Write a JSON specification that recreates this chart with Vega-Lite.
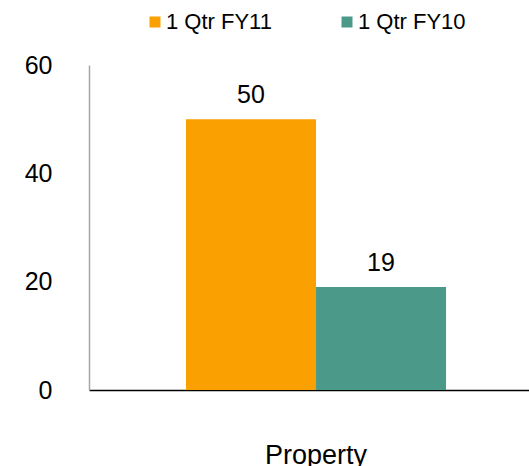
{
  "$schema": "https://vega.github.io/schema/vega-lite/v6.json",
  "autosize": {"type": "none"},
  "width": 440,
  "height": 325,
  "padding": {"left": 89, "top": 65, "right": 0, "bottom": 76},
  "background": "white",
  "config": {
    "view": {"stroke": null},
    "font": "Liberation Sans",
    "text": {"font": "Liberation Sans"}
  },
  "data": {
    "values": [
      {"category": "Property", "period": "1 Qtr FY11", "value": 50},
      {"category": "Property", "period": "1 Qtr FY10", "value": 19}
    ]
  },
  "encoding": {
    "x": {
      "field": "category",
      "type": "nominal",
      "scale": {"paddingInner": 0, "paddingOuter": 0.346, "align": 0.539},
      "axis": {
        "title": null,
        "labelAngle": 0,
        "labelFontSize": 27,
        "labelColor": "#000000",
        "labelPadding": 52,
        "ticks": false,
        "domainColor": "#000000",
        "domainWidth": 1.5
      }
    },
    "xOffset": {"field": "period", "type": "nominal", "sort": ["1 Qtr FY11", "1 Qtr FY10"]},
    "y": {
      "field": "value",
      "type": "quantitative",
      "scale": {"domain": [0, 60]},
      "axis": {
        "title": null,
        "values": [0, 20, 40, 60],
        "grid": false,
        "ticks": false,
        "labelFontSize": 25,
        "labelColor": "#000000",
        "labelPadding": 37,
        "domainColor": "#A6A6A6",
        "domainWidth": 1.5
      }
    }
  },
  "layer": [
    {
      "mark": {"type": "bar"},
      "encoding": {
        "color": {
          "field": "period",
          "type": "nominal",
          "scale": {"domain": ["1 Qtr FY11", "1 Qtr FY10"], "range": ["#FAA000", "#4B9A89"]},
          "legend": {
            "title": null,
            "orient": "none",
            "direction": "horizontal",
            "legendX": 55,
            "legendY": -54,
            "padding": 0,
            "symbolType": "square",
            "symbolSize": 121,
            "symbolStrokeWidth": 0,
            "labelFontSize": 22,
            "labelColor": "#000000",
            "labelOffset": 0,
            "columnPadding": 64
          }
        }
      }
    },
    {
      "mark": {"type": "text", "dy": -16, "baseline": "alphabetic", "fontSize": 25, "color": "#000000"},
      "encoding": {
        "text": {"field": "value", "type": "quantitative"}
      }
    }
  ]
}
